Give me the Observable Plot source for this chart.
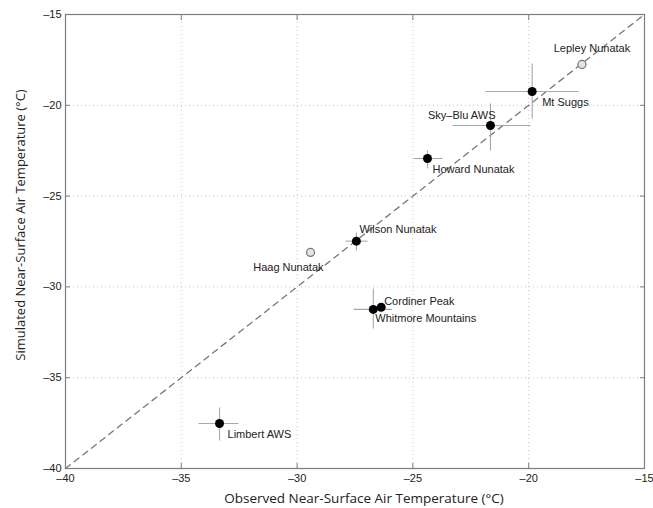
<!DOCTYPE html>
<html>
<head>
<meta charset="utf-8">
<script src="https://cdn.jsdelivr.net/npm/d3@7"></script>
<script src="https://cdn.jsdelivr.net/npm/@observablehq/plot@0.6"></script>
<style>
  html, body { margin: 0; padding: 0; background: #fff; }
  #chart { width: 653px; height: 508px; }
</style>
</head>
<body>
<div id="chart"></div>
<script>
const names = ["Lepley Nunatak", "Mt Suggs", "Sky\u2013Blu AWS", "Howard Nunatak", "Wilson Nunatak", "Haag Nunatak", "Cordiner Peak", "Whitmore Mountains", "Limbert AWS"];
const observed  = [-17.70, -19.85, -21.65, -24.37, -27.44, -29.42, -26.37, -26.71, -33.35];
const simulated = [-17.75, -19.24, -21.11, -22.93, -27.48, -28.10, -31.12, -31.24, -37.52];
const obsLow  = [null, -21.87, -23.29, -24.97, -27.90, null, null, -27.56, -34.26];
const obsHigh = [null, -17.85, -19.92, -23.72, -26.96, null, null, -25.90, -32.53];
const simLow  = [null, -20.73, -22.49, -23.48, -28.00, null, null, -32.29, -38.46];
const simHigh = [null, -17.70, -19.90, -22.49, -27.00, null, null, -30.09, -36.64];
const hollow  = [true, false, false, false, false, true, false, false, false];
const tickValues = [-40, -35, -30, -25, -20, -15];
const oneToOne = [-40, -15];

// label placement (style): [dx, dy, anchor]
const labelPlacement = [
  [10, -16, "middle"], [10, 11, "start"], [5, -10, "end"], [5, 11, "start"],
  [3, -12, "start"], [13, 15, "end"], [3, -6, "start"], [2, 9, "start"], [8, 11, "start"]
];

const rows = names.map((n, i) => ({
  name: n, x: observed[i], y: simulated[i],
  xlo: obsLow[i], xhi: obsHigh[i], ylo: simLow[i], yhi: simHigh[i],
  hollow: hollow[i], dx: labelPlacement[i][0], dy: labelPlacement[i][1], anchor: labelPlacement[i][2]
}));
const errRows = rows.filter(d => d.xlo != null);
const diag = oneToOne.map(v => ({x: v, y: v}));

const axisColor = "#7d7d7d";
const tickFont = "'Liberation Sans', Arial, sans-serif";
const fmt = d => d < 0 ? "\u2013" + Math.abs(d) : String(d);

const labelMarks = rows.map(d => Plot.text([d], {
  x: "x", y: "y", text: "name", textAnchor: d.anchor, dx: d.dx, dy: d.dy,
  fontSize: 11, fill: "#222", fontFamily: tickFont
}));

const chart = Plot.plot({
  width: 653, height: 508,
  marginLeft: 65, marginRight: 9, marginTop: 14, marginBottom: 40,
  x: {domain: [-40, -15]},
  y: {domain: [-40, -15]},
  style: {background: "#fff", overflow: "visible"},
  marks: [
    Plot.gridX(tickValues, {stroke: "#c4c4c4", strokeOpacity: 1, strokeDasharray: "1,3"}),
    Plot.gridY(tickValues, {stroke: "#c4c4c4", strokeOpacity: 1, strokeDasharray: "1,3"}),
    Plot.line(diag, {x: "x", y: "y", stroke: "#777", strokeWidth: 1.3, strokeDasharray: "6,5"}),
    Plot.link(errRows, {x1: "xlo", x2: "xhi", y1: "y", y2: "y", stroke: "#a8a8a8", strokeWidth: 1.1}),
    Plot.link(errRows, {x1: "x", x2: "x", y1: "ylo", y2: "yhi", stroke: "#a8a8a8", strokeWidth: 1.1}),
    Plot.dot(rows.filter(d => !d.hollow), {x: "x", y: "y", r: 4.5, fill: "#000", stroke: "none"}),
    Plot.dot(rows.filter(d => d.hollow), {x: "x", y: "y", r: 4, fill: "#e4e4e4", stroke: "#777", strokeWidth: 1.2}),
    ...labelMarks,
    Plot.frame({stroke: axisColor, strokeWidth: 1.2}),
    Plot.axisX(tickValues, {anchor: "bottom", tickSize: -5, tickPadding: 11, stroke: axisColor, fill: "#222", fontSize: 11, fontFamily: tickFont, label: null, tickFormat: fmt}),
    Plot.axisX(tickValues, {anchor: "top", tickSize: -5, tickFormat: () => "", stroke: axisColor, label: null}),
    Plot.axisY(tickValues, {anchor: "left", tickSize: -5, tickPadding: 9, stroke: axisColor, fill: "#222", fontSize: 11, fontFamily: tickFont, label: null, tickFormat: fmt}),
    Plot.axisY(tickValues, {anchor: "right", tickSize: -5, tickFormat: () => "", stroke: axisColor, label: null})
  ]
});

const svg = d3.select(chart);
svg.append("text")
  .attr("x", 364).attr("y", 503)
  .attr("text-anchor", "middle")
  .style("font-family", "'Open Sans', 'Noto Sans', sans-serif").style("font-size", "13.5px").style("fill", "#222")
  .text("Observed Near-Surface Air Temperature (\u00B0C)");
svg.append("text")
  .attr("transform", "translate(25, 225) rotate(-90)")
  .attr("text-anchor", "middle")
  .style("font-family", "'Open Sans', 'Noto Sans', sans-serif").style("font-size", "13px").style("fill", "#222")
  .text("Simulated Near-Surface Air Temperature (\u00B0C)");

document.getElementById("chart").appendChild(chart);
</script>
</body>
</html>
